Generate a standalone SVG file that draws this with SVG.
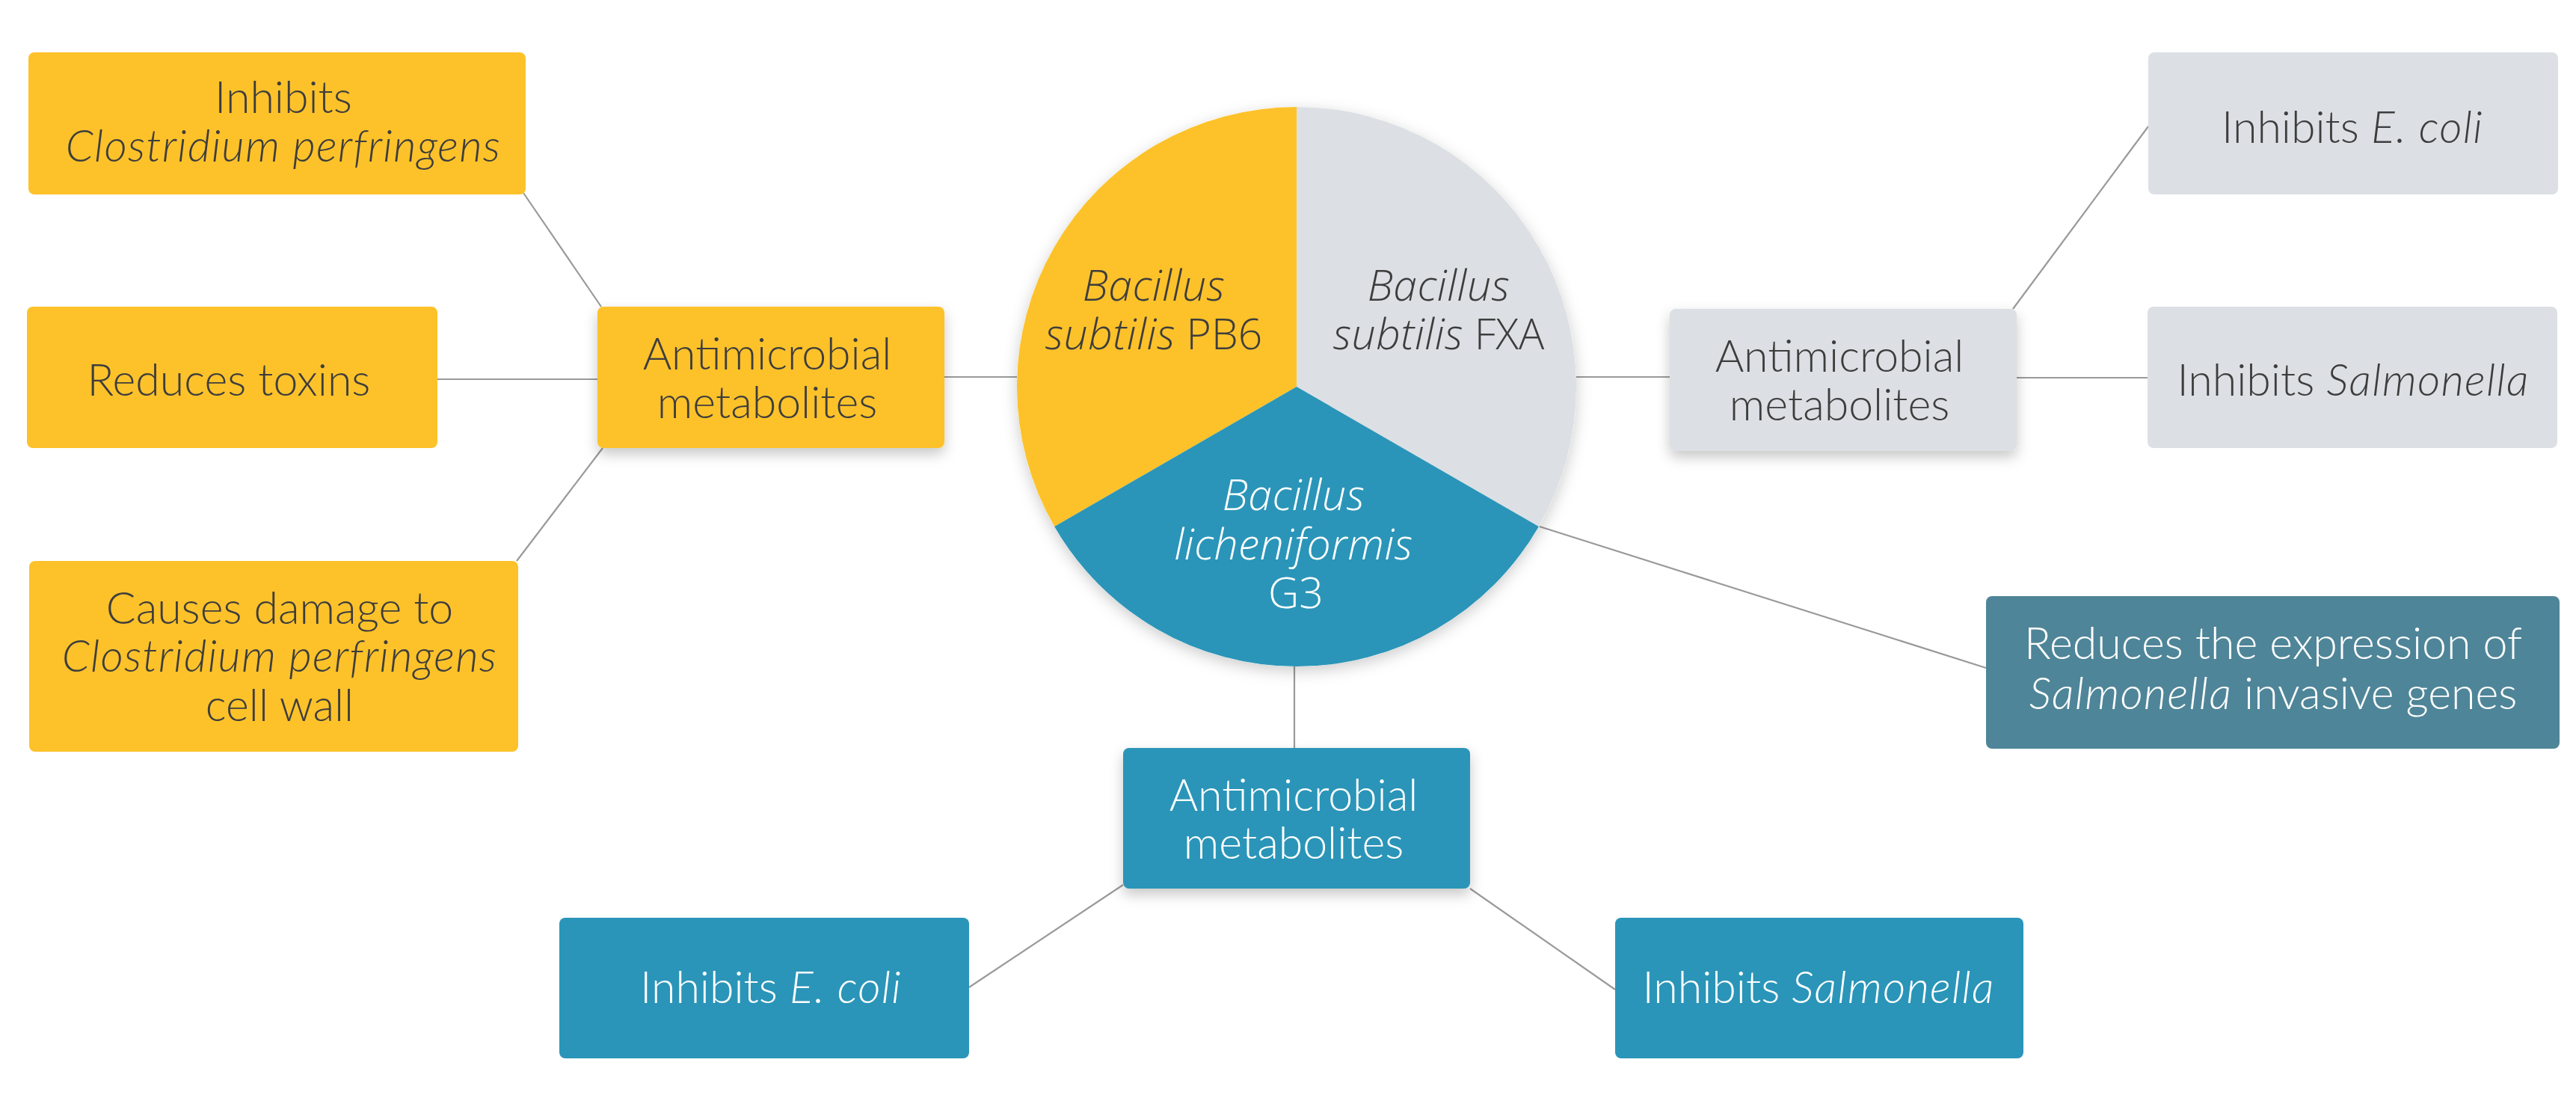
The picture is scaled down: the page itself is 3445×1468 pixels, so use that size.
<svg xmlns="http://www.w3.org/2000/svg" width="3445" height="1468" viewBox="0 0 3445 1468">
<defs>
<filter id="sh" x="-20%" y="-20%" width="140%" height="150%">
<feDropShadow dx="0" dy="8" stdDeviation="9" flood-color="#000" flood-opacity="0.22"/>
</filter>
<filter id="psh" x="-20%" y="-20%" width="140%" height="140%">
<feDropShadow dx="0" dy="6" stdDeviation="10" flood-color="#000" flood-opacity="0.2"/>
</filter>
<style>
text{font-family:Lato,"Open Sans","Liberation Sans",sans-serif;font-weight:300;font-size:59px;text-anchor:middle;fill:#3d3d3d}
.w{fill:#fff}
.i{font-style:italic;letter-spacing:1.2px}
.p{font-family:"Open Sans",Lato,"Liberation Sans",sans-serif;font-size:57px}
.p .i, .p.i{letter-spacing:0.5px}
.yel{fill:#FDC22A}
.gry{fill:#DCE0E4}
.blu{fill:#2A95B8}
.tea{fill:#4F8598}
.con line{stroke:#9a9a9a;stroke-width:2.2}
</style>
</defs>
<rect width="3445" height="1468" fill="#fff"/>
<g id="connectors" class="con">
<line x1="700" y1="258" x2="804" y2="410"/>
<line x1="585" y1="507" x2="799" y2="507"/>
<line x1="691" y1="750" x2="806" y2="599"/>
<line x1="1263" y1="504" x2="1360" y2="504"/>
<line x1="2102" y1="504" x2="2233" y2="504"/>
<line x1="2692" y1="413" x2="2873" y2="169"/>
<line x1="2697" y1="505" x2="2872" y2="505"/>
<line x1="2059" y1="704" x2="2656" y2="893"/>
<line x1="1731" y1="888" x2="1731" y2="1000"/>
<line x1="1502" y1="1183" x2="1296" y2="1320"/>
<line x1="1966" y1="1188" x2="2160" y2="1323"/>
</g>
<g id="pie">
<circle cx="1734" cy="517" r="374" fill="#fff" filter="url(#psh)"/>
<path class="yel" d="M1734 517 L1734 143 A374 374 0 0 0 1410.1 704 Z"/>
<path class="gry" d="M1734 517 L2057.9 704 A374 374 0 0 0 1734 143 Z"/>
<path class="blu" d="M1734 517 L1410.1 704 A374 374 0 0 0 2057.9 704 Z"/>
<text x="1543" y="402" class="p i">Bacillus</text>
<text x="1543" y="467" class="p"><tspan class="i">subtilis</tspan> PB6</text>
<text x="1924" y="402" class="p i">Bacillus</text>
<text x="1924" y="467" class="p"><tspan class="i">subtilis</tspan> FXA</text>
<text x="1730" y="682" class="p w i">Bacillus</text>
<text x="1730" y="748" class="p w i">licheniformis</text>
<text x="1733" y="813" class="p w">G3</text>
</g>
<g id="y-inhibits">
<rect class="yel" x="38" y="70" width="665" height="190" rx="8"/>
<text x="379" y="151">Inhibits</text>
<text x="379" y="216" class="i">Clostridium perfringens</text>
</g>
<g id="y-toxins">
<rect class="yel" x="36" y="410" width="549" height="189" rx="8"/>
<text x="306" y="529">Reduces toxins</text>
</g>
<g id="y-damage">
<rect class="yel" x="39" y="750" width="654" height="255" rx="8"/>
<text x="374" y="834">Causes damage to</text>
<text x="374" y="898" class="i">Clostridium perfringens</text>
<text x="374" y="964">cell wall</text>
</g>
<g id="y-antimicrobial">
<rect class="yel" x="799" y="410" width="464" height="189" rx="8" filter="url(#sh)"/>
<text x="1026" y="494">Antimicrobial</text>
<text x="1026" y="559">metabolites</text>
</g>
<g id="g-antimicrobial">
<rect class="gry" x="2233" y="413" width="464" height="190" rx="8" filter="url(#sh)"/>
<text x="2460" y="497">Antimicrobial</text>
<text x="2460" y="562">metabolites</text>
</g>
<g id="g-ecoli">
<rect class="gry" x="2873" y="70" width="548" height="190" rx="8"/>
<text x="3146" y="191">Inhibits <tspan class="i">E. coli</tspan></text>
</g>
<g id="g-salmonella">
<rect class="gry" x="2872" y="410" width="548" height="189" rx="8"/>
<text x="3147" y="529">Inhibits <tspan class="i">Salmonella</tspan></text>
</g>
<g id="t-reduces">
<rect class="tea" x="2656" y="797" width="767" height="204" rx="8"/>
<text x="3040" y="881" class="w">Reduces the expression of</text>
<text x="3040" y="948" class="w"><tspan class="i">Salmonella</tspan> invasive genes</text>
</g>
<g id="b-antimicrobial">
<rect class="blu" x="1502" y="1000" width="464" height="188" rx="8" filter="url(#sh)"/>
<text x="1730" y="1084" class="w">Antimicrobial</text>
<text x="1730" y="1148" class="w">metabolites</text>
</g>
<g id="b-ecoli">
<rect class="blu" x="748" y="1227" width="548" height="188" rx="8"/>
<text x="1031" y="1341" class="w">Inhibits <tspan class="i">E. coli</tspan></text>
</g>
<g id="b-salmonella">
<rect class="blu" x="2160" y="1227" width="546" height="188" rx="8"/>
<text x="2432" y="1341" class="w">Inhibits <tspan class="i">Salmonella</tspan></text>
</g>
</svg>
